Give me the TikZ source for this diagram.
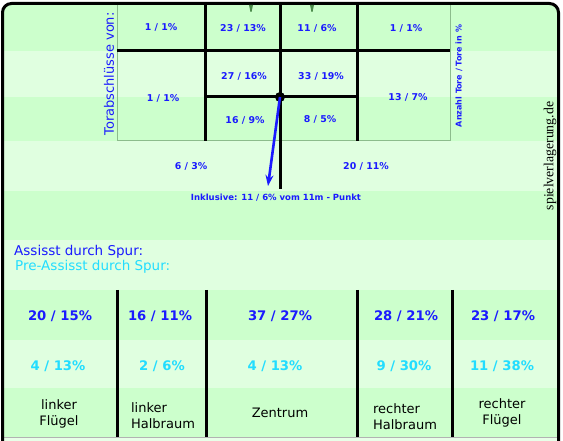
\documentclass[tikz,border=0pt]{standalone}
\usepackage{fontspec}
\setmainfont{DejaVu Sans}
\newfontfamily\markfont{Liberation Serif}
\usetikzlibrary{arrows.meta}
\definecolor{bandA}{HTML}{CCFFCC}
\definecolor{bandB}{HTML}{E0FFE0}
\definecolor{bandC}{HTML}{E8FFE8}
\definecolor{boxline}{HTML}{8CBC8C}
\definecolor{txtblue}{HTML}{1A1AFF}
\definecolor{txtcyan}{HTML}{22DDFF}
\definecolor{postgreen}{HTML}{4C8C4C}
\tikzset{
  thickline/.style={line width=3pt, black},
  smallnum/.style={font=\bfseries\fontsize{9.4}{11}\selectfont, text=txtblue, inner sep=0pt},
  bignum/.style={font=\bfseries\fontsize{13.2}{15}\selectfont, text=txtblue, inner sep=0pt},
  cyannum/.style={font=\bfseries\fontsize{13.2}{15}\selectfont, text=txtcyan, inner sep=0pt},
  lanelabel/.style={font=\fontsize{13}{16}\selectfont, text=black, inner sep=0pt, align=center},
}
\begin{document}
\begin{tikzpicture}[x=1pt,y=-1pt]
\useasboundingbox (0,0) rectangle (563,441);
% background stripes
\begin{scope}
\clip[rounded corners=9pt] (2.5,450) -- (2.5,3.5) -- (558.5,3.5) -- (558.5,450) -- cycle;
\fill[bandA] (0,0) rectangle (563,51);
\fill[bandB] (0,51) rectangle (563,97);
\fill[bandA] (0,97) rectangle (563,141);
\fill[bandB] (0,141) rectangle (563,191);
\fill[bandA] (0,191) rectangle (563,240);
\fill[bandB] (0,240) rectangle (563,290);
\fill[bandA] (0,290) rectangle (563,340);
\fill[bandB] (0,340) rectangle (563,388);
\fill[bandA] (0,388) rectangle (563,437);
\fill[bandC] (0,437) rectangle (563,450);
\draw[gray!60, line width=0.8pt] (0,437.5) -- (563,437.5);
\end{scope}
% frame
\draw[line width=3pt, black, rounded corners=9pt] (2.5,450) -- (2.5,3.5) -- (558.5,3.5) -- (558.5,450);
% goal box
\draw[boxline, line width=1pt] (117,5) -- (117,141) -- (450,141) -- (450,5);
% goal posts marks
\fill[postgreen] (249,5) -- (253,5) -- (251.5,12) -- (250.5,12) -- cycle;
\fill[postgreen] (310,5) -- (314,5) -- (312.5,12) -- (311.5,12) -- cycle;
% thick lines top
\draw[thickline] (117,51) -- (450,51);
\draw[thickline] (205,97) -- (357,97);
\draw[thickline] (205,5) -- (205,141);
\draw[thickline] (357,5) -- (357,141);
\draw[thickline] (280,5) -- (280,189);
\node[circle, fill=black, minimum size=10pt, inner sep=0pt] (dot) at (280,97) {};
\coordinate (tip) at (268,186);
\draw[txtblue, line width=2.6pt, -{Stealth[length=11pt,width=8pt]}] (dot.center) -- (tip);
% top numbers
\node[smallnum] (z11) at (161,27) {1 / 1\%};
\node[smallnum] (z12) at (243,28) {23 / 13\%};
\node[smallnum] (z13) at (317,28) {11 / 6\%};
\node[smallnum] (z14) at (406,28) {1 / 1\%};
\node[smallnum] (z22) at (244,76) {27 / 16\%};
\node[smallnum] (z23) at (321,76) {33 / 19\%};
\node[smallnum] (z21) at (163,98) {1 / 1\%};
\node[smallnum] (z24) at (408,97) {13 / 7\%};
\node[smallnum] (z32) at (245,120) {16 / 9\%};
\node[smallnum] (z33) at (320,119) {8 / 5\%};
\node[smallnum] (z41) at (191,166) {6 / 3\%};
\node[smallnum] (z42) at (366,166) {20 / 11\%};
\node[smallnum, font=\bfseries\fontsize{8.5}{10}\selectfont] (incl) at (276,198) {Inklusive: 11 / 6\% vom 11m - Punkt};
% rotated labels
\node[rotate=90, text=txtblue, font=\fontsize{13}{15}\selectfont, inner sep=0pt] (tav) at (109,74) {Torabschlüsse von:};
\node[rotate=90, text=txtblue, font=\bfseries\fontsize{8}{10}\selectfont, inner sep=0pt] (anz) at (459,76) {Anzahl Tore / Tore in \%};
\node[rotate=90, text=black, font=\markfont\fontsize{13.8}{15}\selectfont, inner sep=0pt] (web) at (550,156) {spielverlagerung.de};
% legends
\node[anchor=west, text=txtblue, font=\fontsize{13.5}{15}\selectfont, inner sep=0pt] (ass) at (14,252) {Assisst durch Spur:};
\node[anchor=west, text=txtcyan, font=\fontsize{13.5}{15}\selectfont, inner sep=0pt] (pre) at (15,267) {Pre-Assisst durch Spur:};
% lane lines
\draw[thickline] (117,290) -- (117,437);
\draw[thickline] (206,290) -- (206,437);
\draw[thickline] (357,290) -- (357,437);
\draw[thickline] (452,290) -- (452,437);
% lane values
\node[bignum] (a1) at (60,316) {20 / 15\%};
\node[bignum] (a2) at (160,316) {16 / 11\%};
\node[bignum] (a3) at (280,316) {37 / 27\%};
\node[bignum] (a4) at (406,316) {28 / 21\%};
\node[bignum] (a5) at (503,316) {23 / 17\%};
\node[cyannum] (p1) at (58,366) {4 / 13\%};
\node[cyannum] (p2) at (162,366) {2 / 6\%};
\node[cyannum] (p3) at (275,366) {4 / 13\%};
\node[cyannum] (p4) at (404,366) {9 / 30\%};
\node[cyannum] (p5) at (502,366) {11 / 38\%};
\node[lanelabel] (l1) at (59,414) {linker\\Flügel};
\node[lanelabel, align=left] (l2) at (163,416) {linker\\Halbraum};
\node[lanelabel] (l3) at (280,413) {Zentrum};
\node[lanelabel, align=left] (l4) at (405,417) {rechter\\Halbraum};
\node[lanelabel] (l5) at (502,413) {rechter\\Flügel};
\end{tikzpicture}
\end{document}
